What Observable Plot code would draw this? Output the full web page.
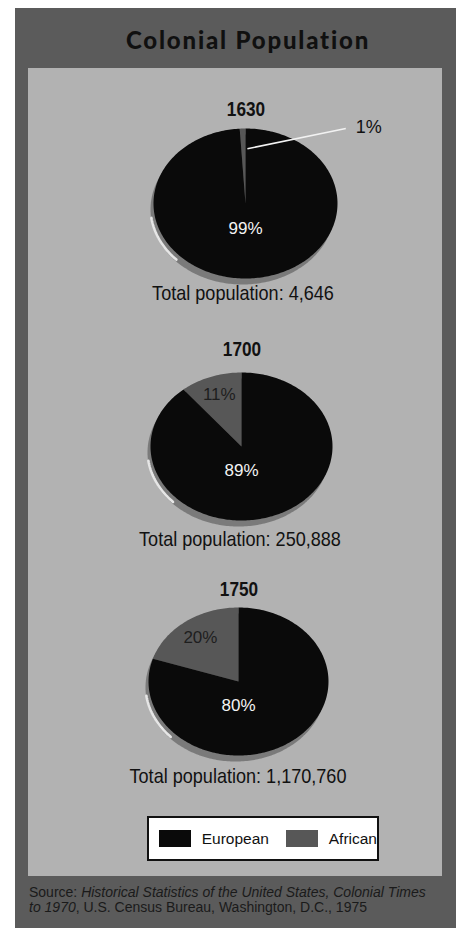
<!DOCTYPE html>
<html>
<head>
<meta charset="utf-8">
<script src="https://cdn.jsdelivr.net/npm/d3@7"></script>
<script src="https://cdn.jsdelivr.net/npm/@observablehq/plot@0.6"></script>
<style>
  body { margin: 0; background: #fff; }
  #page { position: relative; width: 464px; height: 928px; overflow: hidden; background: #fff; }
  .abs { position: absolute; }
  .frame { left: 15px; top: 8px; width: 441px; height: 920px; background: #5b5b5b; }
  .panel { left: 28px; top: 68px; width: 414px; height: 808px; background: #b2b2b2; }
  .title { left: 0; width: 464px; top: 25px; text-align: center; padding-left: 32px; box-sizing: border-box;
           font-family: Lato, "Liberation Sans", sans-serif; font-weight: 900; font-size: 24px; letter-spacing: 1.8px; color: #101010; }
  .year, .total { width: 300px; text-align: center; color: #111;
           font-family: "Liberation Sans", Arial, sans-serif; transform-origin: 50% 50%; }
  .year { font-weight: bold; font-size: 20px; transform: scaleX(0.86); }
  .total { font-size: 21px; transform: scaleX(0.86); }
  .legend { left: 147px; top: 816px; width: 232px; height: 45px; box-sizing: border-box; background: #fff; border: 2px solid #111;
           display: flex; align-items: center;
           font-family: "Liberation Sans", Arial, sans-serif; font-size: 15.5px; color: #111; }
  .sw { width: 46px; height: 17px; display: inline-block; }
  .source { left: 29px; top: 885px; width: 420px; font-family: "Liberation Sans", Arial, sans-serif; font-size: 14px;
           line-height: 15px; color: #1a1a1a; white-space: nowrap; }
</style>
</head>
<body>
<div id="page">
  <div class="abs frame"></div>
  <div class="abs panel"></div>
  <div class="abs title">Colonial Population</div>
  <div class="abs legend" id="legend"></div>
  <div class="abs source">Source: <i>Historical Statistics of the United States, Colonial Times<br>to 1970</i>, U.S. Census Bureau, Washington, D.C., 1975</div>
</div>
<script>
// ---- data ----
const years = ["1630", "1700", "1750"];
const groups = ["European", "African"];
const european = [99, 89, 80];
const african = [1, 11, 20];
const totals = ["4,646", "250,888", "1,170,760"];
const colors = ["#0a0a0a", "#575757"];

// ---- layout (pixels) ----
const layout = [
  {cx: 245, cy: 203, rx: 92, ry: 75, yearY: 110, totalY: 293, tx: 243},
  {cx: 241, cy: 446, rx: 91, ry: 74, yearY: 350, totalY: 539, tx: 240},
  {cx: 238, cy: 681, rx: 90, ry: 74, yearY: 590, totalY: 776, tx: 238}
];
const H = 200;
const page = document.getElementById("page");

function arcPoints(a0, a1, key, withCenter) {
  const pts = [];
  if (withCenter) pts.push({x: 0, y: 0, k: key});
  const n = Math.max(2, Math.ceil((a1 - a0) / 0.02));
  for (let j = 0; j <= n; j++) {
    const a = a0 + (a1 - a0) * j / n;
    pts.push({x: Math.sin(a), y: Math.cos(a), k: key});
  }
  if (withCenter) pts.push({x: 0, y: 0, k: key});
  return pts;
}

years.forEach((yr, i) => {
  const L = layout[i];
  const rows = [
    {g: "African", value: african[i]},
    {g: "European", value: european[i]}
  ];
  const a0 = -african[i] / 100 * 2 * Math.PI;
  const arcs = d3.pie().sort(null).value(d => d.value).startAngle(a0).endAngle(a0 + 2 * Math.PI)(rows);
  const slicePts = arcs.flatMap(a => arcPoints(a.startAngle, a.endAngle, a.data.g, true));
  const base = arcPoints(0, 2 * Math.PI, "base", false);
  const rim = arcPoints(226 * Math.PI / 180, 262 * Math.PI / 180, "rim", false);

  const afr = arcs.find(a => a.data.g === "African");
  const mid = (afr.startAngle + afr.endAngle) / 2;
  const labels = [{x: 0, y: -0.33, t: european[i] + "%", c: "#f4f4f4"}];
  const marks = [
    Plot.line(base, {x: "x", y: "y", fill: "#7a7a7a", stroke: null, dx: -3, dy: 6}),
    Plot.line(rim, {x: "x", y: "y", stroke: "#e6e6e6", strokeWidth: 2.6, dx: -3, dy: 4}),
    Plot.line(slicePts, {x: "x", y: "y", z: "k", fill: "k", stroke: null})
  ];
  if (african[i] < 5) {
    // small slice: callout outside the pie with a white leader line
    const sx = Math.sin(mid + 0.06) * 0.73, sy = Math.cos(mid + 0.06) * 0.73;
    marks.push(Plot.link([{x1: sx, y1: sy, x2: 1.09, y2: 1.0}], {x1: "x1", y1: "y1", x2: "x2", y2: "y2", stroke: "#f2f2f2", strokeWidth: 1.6}));
    marks.push(Plot.text([{x: 1.34, y: 1.02, t: african[i] + "%"}], {x: "x", y: "y", text: "t", fill: "#111", fontSize: 18}));
  } else {
    labels.push({x: Math.sin(mid) * 0.72, y: Math.cos(mid) * 0.74, t: african[i] + "%", c: "#1e1e1e"});
  }
  labels.forEach(d => marks.push(Plot.text([d], {x: "x", y: "y", text: "t", fill: d.c, fontSize: 17})));

  const chart = Plot.plot({
    width: 464, height: H, margin: 0,
    x: {domain: [-1, 1], range: [L.cx - L.rx, L.cx + L.rx], axis: null},
    y: {domain: [-1, 1], range: [H / 2 + L.ry, H / 2 - L.ry], axis: null},
    color: {domain: groups, range: colors},
    style: {background: "transparent", overflow: "visible",
            fontFamily: "'Liberation Sans', Arial, sans-serif"},
    marks
  });
  const wrap = document.createElement("div");
  wrap.className = "abs";
  wrap.style.left = "0px";
  wrap.style.top = (L.cy - H / 2) + "px";
  wrap.appendChild(chart);
  page.appendChild(wrap);

  const y = document.createElement("div");
  y.className = "abs year";
  y.textContent = yr;
  y.style.left = (L.cx + 1 - 150) + "px";
  y.style.top = (L.yearY - 12) + "px";
  page.appendChild(y);

  const t = document.createElement("div");
  t.className = "abs total";
  t.textContent = "Total population: " + totals[i];
  t.style.left = (L.tx - 150) + "px";
  t.style.top = (L.totalY - 12) + "px";
  page.appendChild(t);
});

// legend
const lg = document.getElementById("legend");
groups.forEach((g, i) => {
  const sw = document.createElement("span");
  sw.className = "sw";
  sw.style.background = colors[i];
  sw.style.marginLeft = i === 0 ? "10px" : "17px";
  sw.style.marginRight = "11px";
  lg.appendChild(sw);
  const s = document.createElement("span");
  s.textContent = g;
  lg.appendChild(s);
});
</script>
</body>
</html>
